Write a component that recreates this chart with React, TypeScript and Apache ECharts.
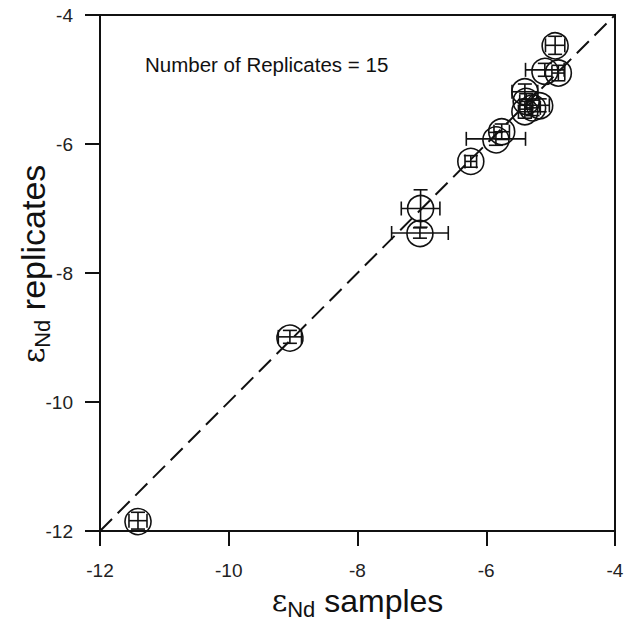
import React, { useEffect, useRef } from "react";
import * as echarts from "echarts";

// εNd of each sample (x) and of its replicate (y), with 2σ uncertainties
const sampleEps = [-11.41, -9.05, -7.02, -7.03, -6.24, -5.85, -5.76, -5.4, -5.38, -5.17, -5.4, -5.28, -5.09, -4.88, -4.93];
const replicateEps = [-11.84, -8.99, -7.0, -7.38, -6.27, -5.92, -5.81, -5.19, -5.34, -5.4, -5.5, -5.44, -4.85, -4.9, -4.47];
const sampleErr = [0.14, 0.18, 0.3, 0.44, 0.09, 0.46, 0.12, 0.2, 0.1, 0.15, 0.1, 0.12, 0.3, 0.1, 0.15];
const replicateErr = [0.13, 0.1, 0.29, 0.08, 0.09, 0.1, 0.12, 0.12, 0.12, 0.1, 0.1, 0.12, 0.1, 0.12, 0.14];

const axisMin = -12;
const axisMax = -4;
const tickStep = 2;
const oneToOne = [
  [-12, -12],
  [-4, -4],
];
const annotation = "Number of Replicates = 15";
const xTitle = "{eps|ε}{sub|Nd}{main| samples}";
const yTitle = "{eps|ε}{sub|Nd}{main| replicates}";

const FONT = "'Liberation Sans', Arial, sans-serif";
const INK = "#111";

const titleRich = (mainSize: number) => ({
  eps: { fontFamily: "'DejaVu Serif', serif", fontSize: 30, color: INK },
  sub: { fontFamily: FONT, fontSize: 22, color: INK, padding: [18, 0, 0, 0] },
  main: { fontFamily: FONT, fontSize: mainSize, color: INK },
});

export default function App() {
  const ref = useRef<HTMLDivElement>(null);

  useEffect(() => {
    if (!ref.current) return;
    const chart = echarts.init(ref.current, null, { renderer: "svg" });

    const points = sampleEps.map((x, i) => [x, replicateEps[i], sampleErr[i], replicateErr[i]]);

    const axisCommon = {
      type: "value",
      min: axisMin,
      max: axisMax,
      interval: tickStep,
      splitLine: { show: false },
      axisLine: { show: true, lineStyle: { color: INK, width: 2 } },
      axisTick: { show: true, inside: false, length: 15, lineStyle: { color: INK, width: 2 } },
    };

    chart.setOption({
      animation: false,
      grid: {
        left: 100,
        top: 15,
        width: 515,
        height: 516,
        outerBoundsMode: "none",
        containLabel: false,
        show: true,
        borderColor: INK,
        borderWidth: 2,
        backgroundColor: "transparent",
      },
      xAxis: {
        ...axisCommon,
        axisLabel: { margin: 30, fontFamily: FONT, fontSize: 19, color: "#222" },
        name: xTitle,
        nameLocation: "middle",
        nameGap: 48,
        nameTextStyle: { rich: titleRich(32) },
      },
      yAxis: {
        ...axisCommon,
        axisLabel: { margin: 27, fontFamily: FONT, fontSize: 19, color: "#222" },
      },
      graphic: [
        {
          type: "text",
          left: 145,
          top: 54,
          style: { text: annotation, fontFamily: FONT, fontSize: 20.5, fill: INK },
        },
        {
          type: "text",
          x: 33,
          y: 264,
          rotation: Math.PI / 2,
          style: {
            text: yTitle,
            rich: titleRich(34),
            align: "center",
            verticalAlign: "middle",
            fill: INK,
          },
        },
      ],
      series: [
        {
          type: "line",
          data: oneToOne,
          symbol: "none",
          lineStyle: { color: INK, width: 2, type: [17, 8] },
          silent: true,
          z: 1,
        },
        {
          type: "custom",
          data: points,
          clip: false,
          z: 2,
          renderItem: (_params: any, api: any) => {
            const x = api.value(0);
            const y = api.value(1);
            const xe = api.value(2);
            const ye = api.value(3);
            const c = api.coord([x, y]);
            const l = api.coord([x - xe, y]);
            const r = api.coord([x + xe, y]);
            const t = api.coord([x, y + ye]);
            const b = api.coord([x, y - ye]);
            const cap = 7;
            const style = { stroke: INK, lineWidth: 1.6, fill: null };
            const seg = (x1: number, y1: number, x2: number, y2: number) => ({
              type: "line",
              shape: { x1, y1, x2, y2 },
              style,
            });
            return {
              type: "group",
              children: [
                { type: "circle", shape: { cx: c[0], cy: c[1], r: 13 }, style: { stroke: INK, lineWidth: 1.6, fill: "none" } },
                seg(l[0], l[1], r[0], r[1]),
                seg(l[0], l[1] - cap, l[0], l[1] + cap),
                seg(r[0], r[1] - cap, r[0], r[1] + cap),
                seg(t[0], t[1], b[0], b[1]),
                seg(t[0] - cap, t[1], t[0] + cap, t[1]),
                seg(b[0] - cap, b[1], b[0] + cap, b[1]),
              ],
            };
          },
        },
      ],
    });

    return () => chart.dispose();
  }, []);

  return (
    <div
      ref={ref}
      style={{ position: "fixed", left: 0, top: 0, width: 624, height: 623, background: "#fff" }}
    />
  );
}
